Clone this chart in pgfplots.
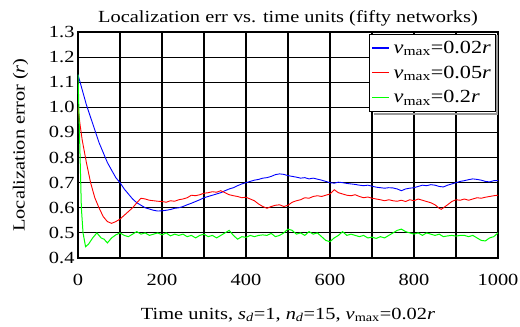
\documentclass[border=0pt]{standalone}
\usepackage{pgfplots}
\pgfplotsset{compat=1.18}
\usepackage{fontspec}
\setmainfont{Liberation Serif}[FakeStretch=1.2]
\newcommand{\fs}{\fontsize{17bp}{20bp}\selectfont}
\newcommand{\fl}{\fontsize{18.5bp}{20bp}\selectfont}
\newcommand{\vmax}{\textit{v}\textsubscript{max}}
\begin{document}
\begin{tikzpicture}
\useasboundingbox (-78bp,-69bp) rectangle (442bp,258bp);
\begin{axis}[
  scale only axis, width=420bp, height=226bp,
  xmin=0, xmax=1000, ymin=0.4, ymax=1.3,
  xtick={0,200,400,600,800,1000},
  minor xtick={100,300,500,700,900},
  ytick={0.4,0.5,0.6,0.7,0.8,0.9,1.0,1.1,1.2,1.3},
  yticklabel style={/pgf/number format/.cd, fixed, fixed zerofill, precision=1},
  xticklabel style={yshift=-13bp, /pgf/number format/.cd, set thousands separator={}},
  /pgf/number format/assume math mode=true,
  grid=both,
  major grid style={black, line width=1.1bp},
  minor grid style={black, line width=1.1bp},
  axis line style={black, line width=1.6bp},
  major tick length=0pt, minor tick length=0pt,
  tick label style={font=\fs},
  title={Localization err vs. time units (fifty networks)},
  title style={font=\fs, yshift=-4bp},
  xlabel={Time units, \textit{s}\textsubscript{\textit{d}}=1, \textit{n}\textsubscript{\textit{d}}=15, \vmax=0.02\textit{r}},
  xlabel style={font=\fs, yshift=-15bp},
  ylabel={Localization error (\textit{r})},
  ylabel style={font=\fs, yshift=14bp},
  legend style={font=\fl, at={(rel axis cs:0.993,0.992)}, anchor=north east,
    draw=black, fill=white, inner xsep=2bp, inner ysep=5bp,
    row sep=7bp, /tikz/every odd column/.append style={column sep=2bp}},
  legend cell align=left,
]
\addplot[blue, line width=0.9bp, legend image code/.code={\draw[blue, line width=1.2bp] (0bp,0bp) -- (17bp,0bp);}] coordinates {
(0,1.13)(5,1.10)(10,1.07)(20,1.01)(30,0.96)(40,0.91)(50,0.86)(60,0.82)(70,0.78)(80,0.75)(90,0.72)
(100,0.70)(110,0.675)(120,0.655)(130,0.635)(140,0.62)(150,0.61)(160,0.60)(170,0.595)(180,0.59)(190,0.587)
(200,0.588)(210,0.59)(220,0.593)(230,0.598)(240,0.60)(250,0.605)(260,0.612)(270,0.618)(280,0.625)(290,0.632)
(300,0.64)(310,0.645)(320,0.65)(330,0.655)(340,0.66)(350,0.668)(360,0.675)(370,0.68)(380,0.688)(390,0.695)
(400,0.70)(410,0.705)(420,0.71)(430,0.713)(440,0.718)(450,0.72)(460,0.725)(470,0.732)(480,0.735)(490,0.733)
(500,0.728)(510,0.725)(520,0.722)(530,0.718)(540,0.72)(550,0.715)(560,0.718)(570,0.714)(580,0.71)(590,0.705)
(600,0.70)(610,0.698)(620,0.702)(630,0.700)(640,0.697)(650,0.695)(660,0.693)(670,0.69)(680,0.688)(690,0.69)
(700,0.686)(710,0.682)(720,0.68)(730,0.678)(740,0.68)(750,0.679)(760,0.675)(770,0.668)(780,0.675)(790,0.678)
(800,0.68)(810,0.685)(820,0.69)(830,0.688)(840,0.692)(850,0.69)(860,0.685)(870,0.683)(880,0.69)(890,0.695)
(900,0.70)(910,0.705)(920,0.708)(930,0.712)(940,0.715)(950,0.713)(960,0.71)(970,0.705)(980,0.703)(990,0.708)(1000,0.708)
};
\addlegendentry{\vmax=0.02\textit{r}}
\addplot[red, line width=0.9bp, legend image code/.code={\draw[red, line width=1.2bp] (0bp,0bp) -- (17bp,0bp);}] coordinates {
(0,1.00)(5,0.93)(10,0.87)(20,0.78)(30,0.70)(40,0.64)(50,0.60)(60,0.565)(70,0.545)(80,0.538)(90,0.545)
(100,0.555)(110,0.57)(120,0.585)(130,0.60)(140,0.62)(150,0.638)(160,0.635)(170,0.63)(180,0.628)(190,0.626)
(200,0.625)(210,0.622)(220,0.628)(230,0.626)(240,0.632)(250,0.635)(260,0.64)(270,0.65)(280,0.648)(290,0.652)
(300,0.658)(310,0.66)(320,0.664)(330,0.662)(340,0.668)(350,0.66)(360,0.652)(370,0.648)(380,0.645)(390,0.64)
(400,0.642)(410,0.635)(420,0.628)(430,0.615)(440,0.605)(450,0.598)(460,0.605)(470,0.61)(480,0.612)(490,0.605)
(500,0.61)(510,0.622)(520,0.628)(530,0.632)(540,0.64)(550,0.638)(560,0.645)(570,0.648)(580,0.645)(590,0.65)
(600,0.655)(610,0.672)(620,0.66)(630,0.655)(640,0.65)(650,0.648)(660,0.652)(670,0.645)(680,0.64)(690,0.643)
(700,0.638)(710,0.635)(720,0.632)(730,0.628)(740,0.632)(750,0.628)(760,0.626)(770,0.63)(780,0.625)(790,0.632)
(800,0.628)(810,0.635)(820,0.63)(830,0.625)(840,0.62)(850,0.612)(860,0.598)(865,0.594)(870,0.60)(880,0.612)(890,0.625)
(900,0.632)(910,0.63)(920,0.635)(930,0.63)(940,0.635)(950,0.64)(960,0.638)(970,0.642)(980,0.645)(990,0.648)(1000,0.65)
};
\addlegendentry{\vmax=0.05\textit{r}}
\addplot[green, line width=1bp, legend image code/.code={\draw[green, line width=1.3bp] (0bp,0bp) -- (17bp,0bp);}] coordinates {
(0,1.13)(2,1.00)(5,0.80)(8,0.60)(12,0.50)(18,0.445)(25,0.455)(35,0.48)(45,0.50)(55,0.48)(62,0.475)(70,0.46)(80,0.48)(90,0.492)
(100,0.50)(110,0.49)(120,0.485)(130,0.495)(140,0.505)(150,0.495)(160,0.50)(170,0.49)(180,0.495)(190,0.50)
(200,0.492)(210,0.50)(220,0.488)(230,0.495)(240,0.49)(250,0.495)(260,0.485)(270,0.49)(280,0.48)(290,0.49)
(300,0.495)(310,0.485)(320,0.49)(330,0.48)(340,0.49)(350,0.50)(360,0.51)(370,0.49)(380,0.475)(390,0.485)
(400,0.482)(410,0.49)(420,0.485)(430,0.49)(440,0.492)(450,0.49)(460,0.498)(470,0.485)(480,0.49)(490,0.50)
(500,0.515)(510,0.51)(520,0.495)(530,0.50)(540,0.49)(550,0.505)(560,0.495)(570,0.50)(580,0.485)(590,0.47)
(600,0.465)(610,0.48)(620,0.49)(630,0.505)(640,0.49)(650,0.495)(660,0.49)(670,0.485)(680,0.49)(690,0.48)
(700,0.483)(710,0.478)(720,0.485)(730,0.48)(740,0.49)(750,0.50)(760,0.51)(770,0.515)(780,0.505)(790,0.50)
(800,0.495)(810,0.50)(820,0.49)(830,0.50)(840,0.495)(850,0.49)(860,0.495)(870,0.485)(880,0.488)(890,0.49)
(900,0.487)(910,0.49)(920,0.49)(930,0.485)(940,0.49)(950,0.48)(960,0.47)(970,0.468)(980,0.48)(990,0.485)(1000,0.50)
};
\addlegendentry{\vmax=0.2\textit{r}}
\draw[gray!80, line width=2bp] (rel axis cs:0.704,0.636) -- (rel axis cs:0.9975,0.636) -- (rel axis cs:0.9975,0.985);
\end{axis}
\end{tikzpicture}
\end{document}
